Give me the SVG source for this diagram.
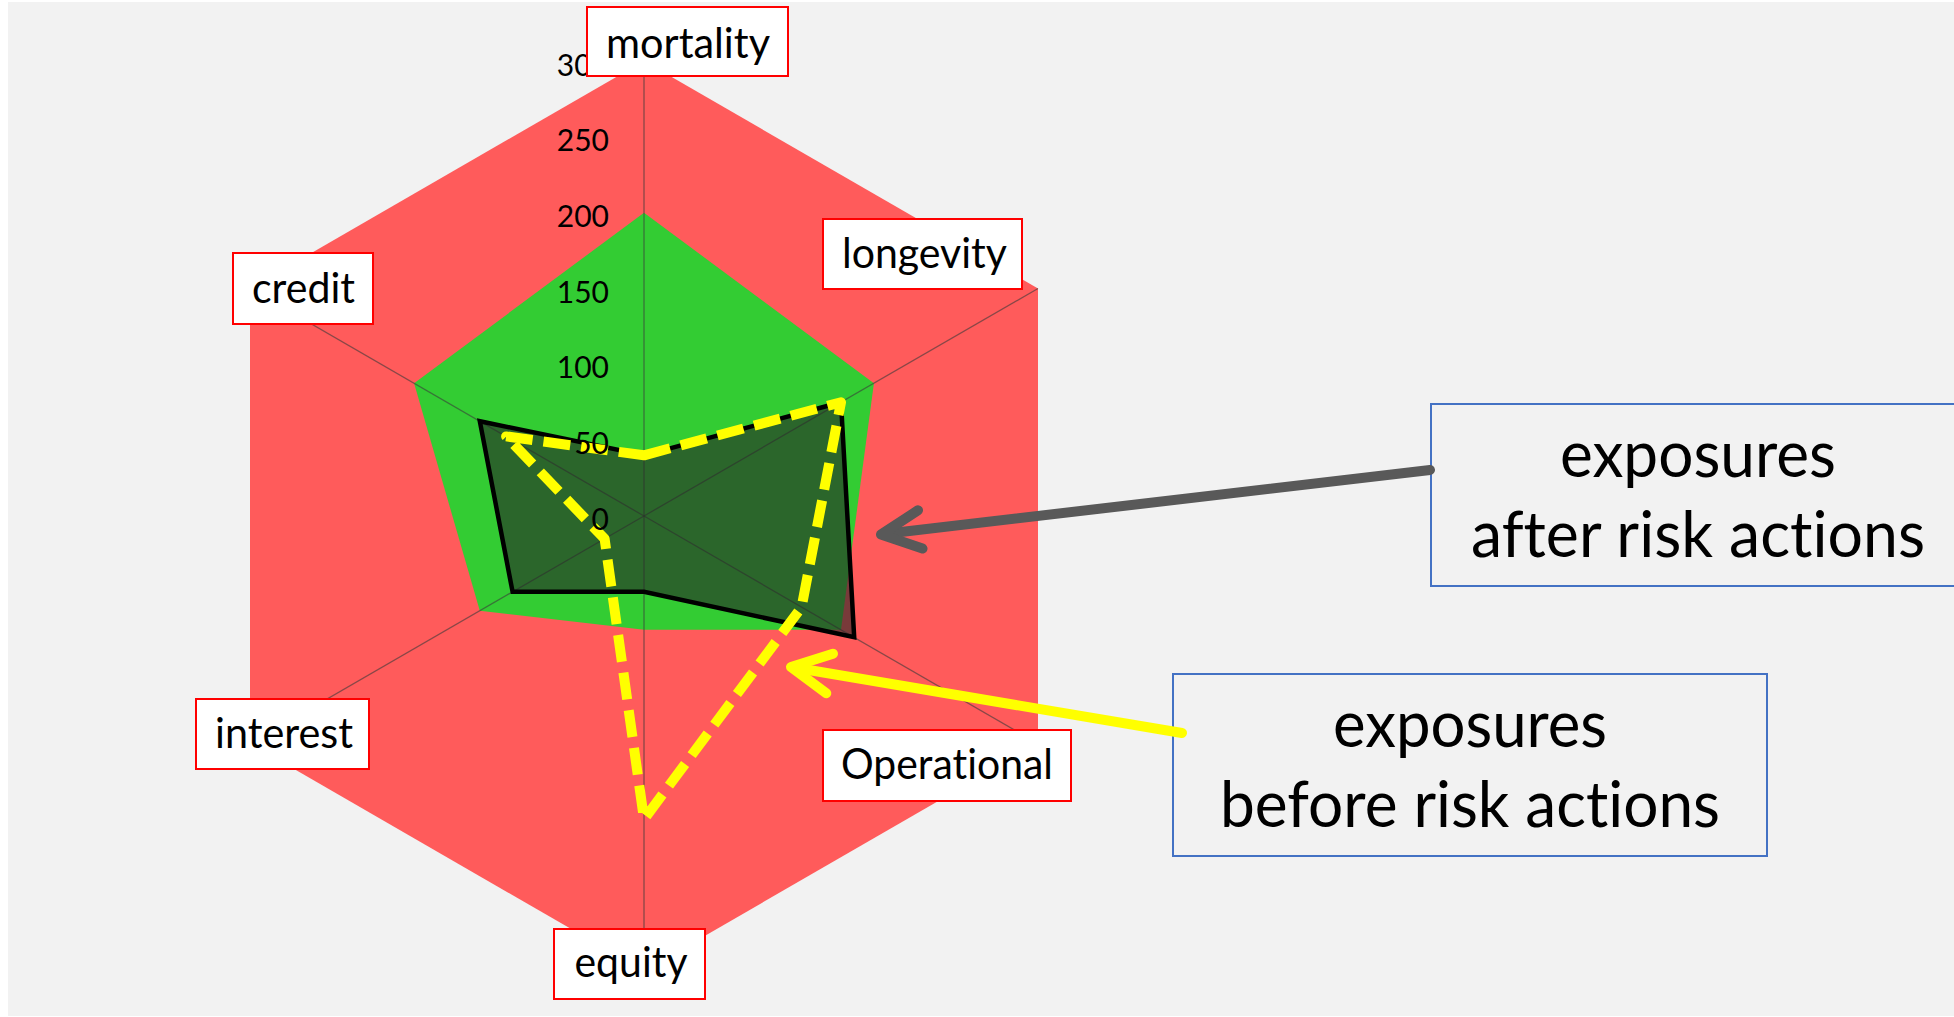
<svg xmlns="http://www.w3.org/2000/svg" width="1954" height="1017" viewBox="0 0 1954 1017">
  <style>
    text { font-variant-ligatures: none; font-feature-settings: "liga" 0; }
    .axis-box { fill: #FFFFFF; stroke: #FF0000; stroke-width: 2; }
    .axis-text { font-family: Lato, "Liberation Sans", sans-serif; font-size: 42px; fill: #000; text-anchor: middle; }
    .tick { font-family: Lato, "Liberation Sans", sans-serif; font-size: 30px; fill: #000; text-anchor: end; }
    .spoke { stroke: #3a3a3a; stroke-opacity: 0.6; stroke-width: 1.3; fill: none; }
    .call-box { fill: #F2F2F2; stroke: #4472C4; stroke-width: 2; }
    .call-text { font-family: Lato, "Liberation Sans", sans-serif; font-size: 64px; fill: #000; text-anchor: middle; }
    .arrow { fill: none; stroke-width: 10; stroke-linecap: round; stroke-linejoin: round; }
  </style>

  <!-- canvas -->
  <rect x="0" y="0" width="1954" height="1017" fill="#FFFFFF"/>
  <rect x="8" y="2" width="1946" height="1014" fill="#F2F2F2"/>

  <!-- radar chart: centre (644,516), outer radius 455 = 300 -->
  <g id="chart">
    <polygon id="limit-red" points="644,61 1038,288.5 1038,743.5 644,971 250,743.5 250,288.5" fill="#FF5B5B"/>
    <polygon id="limit-green" points="644,212.7 873.9,383.3 841,629.75 644,629.75 479.8,610.8 414.1,383.3" fill="#33CC33"/>
    <g id="spokes">
      <line class="spoke" x1="644" y1="516" x2="644" y2="61"/>
      <line class="spoke" x1="644" y1="516" x2="1038" y2="288.5"/>
      <line class="spoke" x1="644" y1="516" x2="1038" y2="743.5"/>
      <line class="spoke" x1="644" y1="516" x2="644" y2="971"/>
      <line class="spoke" x1="644" y1="516" x2="250" y2="743.5"/>
      <line class="spoke" x1="644" y1="516" x2="250" y2="288.5"/>
    </g>
    <!-- exposures after risk actions -->
    <polygon id="series-after" points="644,455.3 841,402.25 854.2,637.3 644,591.8 512.6,591.8 479.8,421.2"
             fill="#262626" fill-opacity="0.62" stroke="#000" stroke-width="4.5" stroke-linejoin="miter"/>
    <!-- exposures before risk actions -->
    <polygon id="series-before" points="644,455.3 841,402.25 801.6,607 644,819.3 604.6,538.75 506.1,436.4"
             fill="none" stroke="#FFFF00" stroke-width="10" stroke-dasharray="27 11" stroke-linejoin="round"/>
    <g id="ticks">
      <text class="tick" x="609" y="75.5">300</text>
      <text class="tick" x="609" y="151">250</text>
      <text class="tick" x="609" y="227">200</text>
      <text class="tick" x="609" y="302.5">150</text>
      <text class="tick" x="609" y="378">100</text>
      <text class="tick" x="609" y="454">50</text>
      <text class="tick" x="609" y="529.5">0</text>
    </g>
  </g>

  <!-- category labels -->
  <g id="label-mortality">
    <rect class="axis-box" x="587" y="7" width="201" height="69"/>
    <text class="axis-text" x="688" y="58" textLength="164" lengthAdjust="spacingAndGlyphs">mortality</text>
  </g>
  <g id="label-longevity">
    <rect class="axis-box" x="823" y="219" width="199" height="70"/>
    <text class="axis-text" x="924.5" y="268" textLength="165" lengthAdjust="spacingAndGlyphs">longevity</text>
  </g>
  <g id="label-credit">
    <rect class="axis-box" x="233" y="253" width="140" height="71"/>
    <text class="axis-text" x="303.5" y="303" textLength="103" lengthAdjust="spacingAndGlyphs">credit</text>
  </g>
  <g id="label-interest">
    <rect class="axis-box" x="196" y="699" width="173" height="70"/>
    <text class="axis-text" x="284" y="748" textLength="138" lengthAdjust="spacingAndGlyphs">interest</text>
  </g>
  <g id="label-operational">
    <rect class="axis-box" x="823" y="730" width="248" height="71"/>
    <text class="axis-text" x="947" y="779" textLength="212" lengthAdjust="spacingAndGlyphs">Operational</text>
  </g>
  <g id="label-equity">
    <rect class="axis-box" x="554" y="929" width="151" height="70"/>
    <text class="axis-text" x="631" y="977" textLength="113" lengthAdjust="spacingAndGlyphs">equity</text>
  </g>

  <!-- callouts -->
  <g id="callout-after">
    <rect class="call-box" x="1431" y="404" width="540" height="182"/>
    <text class="call-text" x="1698" y="477" textLength="276" lengthAdjust="spacingAndGlyphs">exposures</text>
    <text class="call-text" x="1698" y="557" textLength="454" lengthAdjust="spacingAndGlyphs">after risk actions</text>
  </g>
  <g id="callout-before">
    <rect class="call-box" x="1173" y="674" width="594" height="182"/>
    <text class="call-text" x="1470" y="747" textLength="274" lengthAdjust="spacingAndGlyphs">exposures</text>
    <text class="call-text" x="1470" y="827" textLength="500" lengthAdjust="spacingAndGlyphs">before risk actions</text>
  </g>

  <!-- connectors -->
  <g id="connectors">
    <g id="arrow-after" class="arrow" stroke="#595959">
      <line x1="1430" y1="470" x2="884" y2="534"/>
      <polyline points="918,510.3 881,534.5 922.5,548.6"/>
    </g>
    <g id="arrow-before" class="arrow" stroke="#FFFF00">
      <line x1="1182" y1="733" x2="794" y2="667.5"/>
      <polyline points="833,653.8 791,667 826.3,693.2"/>
    </g>
  </g>
</svg>
